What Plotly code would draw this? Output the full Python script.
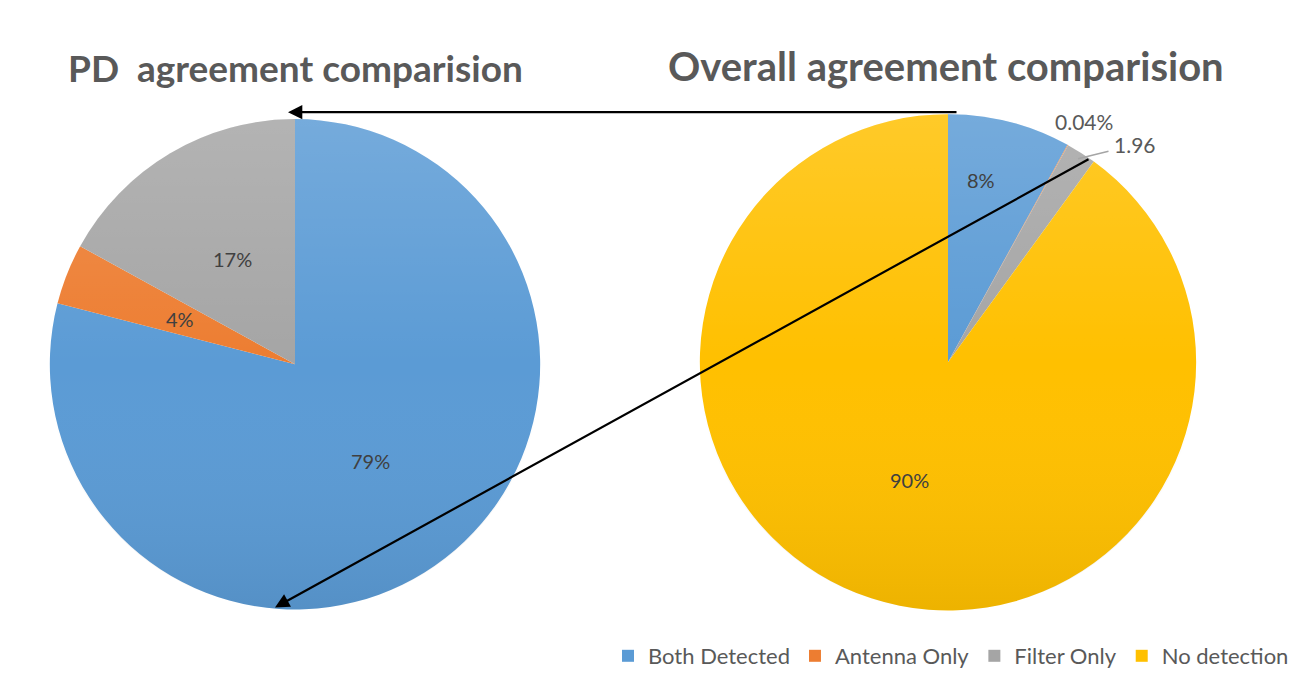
import base64
import math
import plotly.graph_objects as go

# Slice categories and values
categories = ["Both Detected", "Antenna Only", "Filter Only", "No detection"]
pd_values = [79, 4, 17]
overall_values = [8, 0.04, 1.96, 90]
overall_suffix = ["%", "%", "", "%"]

pd_title = "PD&nbsp; agreement comparision"
overall_title = "Overall agreement comparision"

colors = ["#5B9BD5", "#ED7D31", "#A5A5A5", "#FFC000"]

W, H = 1304, 677
TEXT = "#404040"
GREY = "#595959"
FONT = "Lato, 'Open Sans', sans-serif"

# pie geometry in pixels (centre x, centre y from top, radius)
left_pie = (295, 367, 247)
right_pie = (948, 365, 250)


def domain(cx, cy, r):
    return dict(x=[(cx - r) / W, (cx + r) / W],
                y=[(H - cy - r) / H, (H - cy + r) / H])


def mid_angles(values):
    total = sum(values)
    out, acc = [], 0.0
    for v in values:
        out.append((acc + v / 2) / total * 2 * math.pi)
        acc += v
    return out


def label_xy(pie, ang, frac):
    cx, cy, r = pie
    return cx + math.sin(ang) * r * frac, cy - math.cos(ang) * r * frac


fig = go.Figure()
fig.add_trace(go.Pie(
    labels=categories[:3], values=pd_values, sort=False,
    direction="clockwise", rotation=0, textinfo="none", hoverinfo="label+percent",
    marker=dict(colors=colors[:3], line=dict(width=0)),
    domain=domain(*left_pie), legendrank=1,
))
fig.add_trace(go.Pie(
    labels=categories, values=overall_values, sort=False,
    direction="clockwise", rotation=0, textinfo="none", hoverinfo="label+percent",
    marker=dict(colors=colors, line=dict(width=0)),
    domain=domain(*right_pie), legendrank=2,
))

# soft top-to-bottom shading laid over each pie
shade_svg = (
    '<svg xmlns="http://www.w3.org/2000/svg" width="200" height="200">'
    '<defs><linearGradient id="g" x1="0" y1="0" x2="0" y2="1">'
    '<stop offset="0" stop-color="#ffffff" stop-opacity="0.16"/>'
    '<stop offset="0.5" stop-color="#ffffff" stop-opacity="0"/>'
    '<stop offset="1" stop-color="#000000" stop-opacity="0.07"/>'
    '</linearGradient></defs>'
    '<circle cx="100" cy="100" r="100" fill="url(#g)"/></svg>'
)
shade_src = "data:image/svg+xml;base64," + base64.b64encode(shade_svg.encode()).decode()
images = []
for cx, cy, r in (left_pie, right_pie):
    images.append(dict(source=shade_src, xref="paper", yref="paper",
                       x=(cx - r) / W, y=1 - (cy - r) / H,
                       sizex=2 * r / W, sizey=2 * r / H, sizing="stretch",
                       xanchor="left", yanchor="top", layer="above"))

annotations = []


def add_text(x, y, text, size=20, color=TEXT, xanchor="center"):
    annotations.append(dict(x=x / W, y=1 - y / H, xref="paper", yref="paper",
                            text=text, showarrow=False,
                            xanchor=xanchor, yanchor="middle",
                            font=dict(family=FONT, size=size, color=color)))


# left pie labels, half way out along each slice
for v, a in zip(pd_values, mid_angles(pd_values)):
    x, y = label_xy(left_pie, a, 0.5)
    add_text(x, y, f"{v:g}%")

# right pie labels
r_angles = mid_angles(overall_values)
x, y = label_xy(right_pie, r_angles[0], 0.76)
add_text(x - 14, y, f"{overall_values[0]:g}{overall_suffix[0]}")
x, y = label_xy(right_pie, r_angles[3], 0.5)
add_text(x, y, f"{overall_values[3]:g}{overall_suffix[3]}")
add_text(1084, 122, f"{overall_values[1]:g}{overall_suffix[1]}", size=21, color=GREY)
# leader line for the thin grey slice
annotations.append(dict(
    x=1078 / W, y=1 - 160 / H, xref="paper", yref="paper",
    ax=32, ay=-8, axref="pixel", ayref="pixel",
    text="", showarrow=True, arrowhead=0, arrowwidth=1.5, arrowcolor="#A5A5A5",
    standoff=0,
))
add_text(1112, 146, f"{overall_values[2]:g}{overall_suffix[2]}", size=21, color=GREY,
         xanchor="left")

# chart titles
add_text(295, 68, f"<b>{pd_title}</b>", size=37, color=GREY)
add_text(946, 66, f"<b>{overall_title}</b>", size=40, color=GREY)

# arrows linking the two charts
for head, tail in [((288, 113), (958, 113)), ((275, 612), (1090, 163))]:
    annotations.append(dict(
        x=head[0] / W, y=1 - head[1] / H, xref="paper", yref="paper",
        ax=tail[0] - head[0], ay=tail[1] - head[1],
        text="", showarrow=True, arrowhead=2, arrowsize=1.3, arrowwidth=2.2,
        arrowcolor="#000000", standoff=0,
    ))

fig.update_layout(
    width=W, height=H, margin=dict(l=0, r=0, t=0, b=0),
    paper_bgcolor="white", plot_bgcolor="white",
    annotations=annotations, images=images,
    showlegend=True,
    legend=dict(orientation="h", x=1294 / W, xanchor="right",
                y=1 - 661 / H, yanchor="middle",
                font=dict(family=FONT, size=22, color=GREY),
                traceorder="normal", itemclick=False),
)

fig.write_html("out.html")
